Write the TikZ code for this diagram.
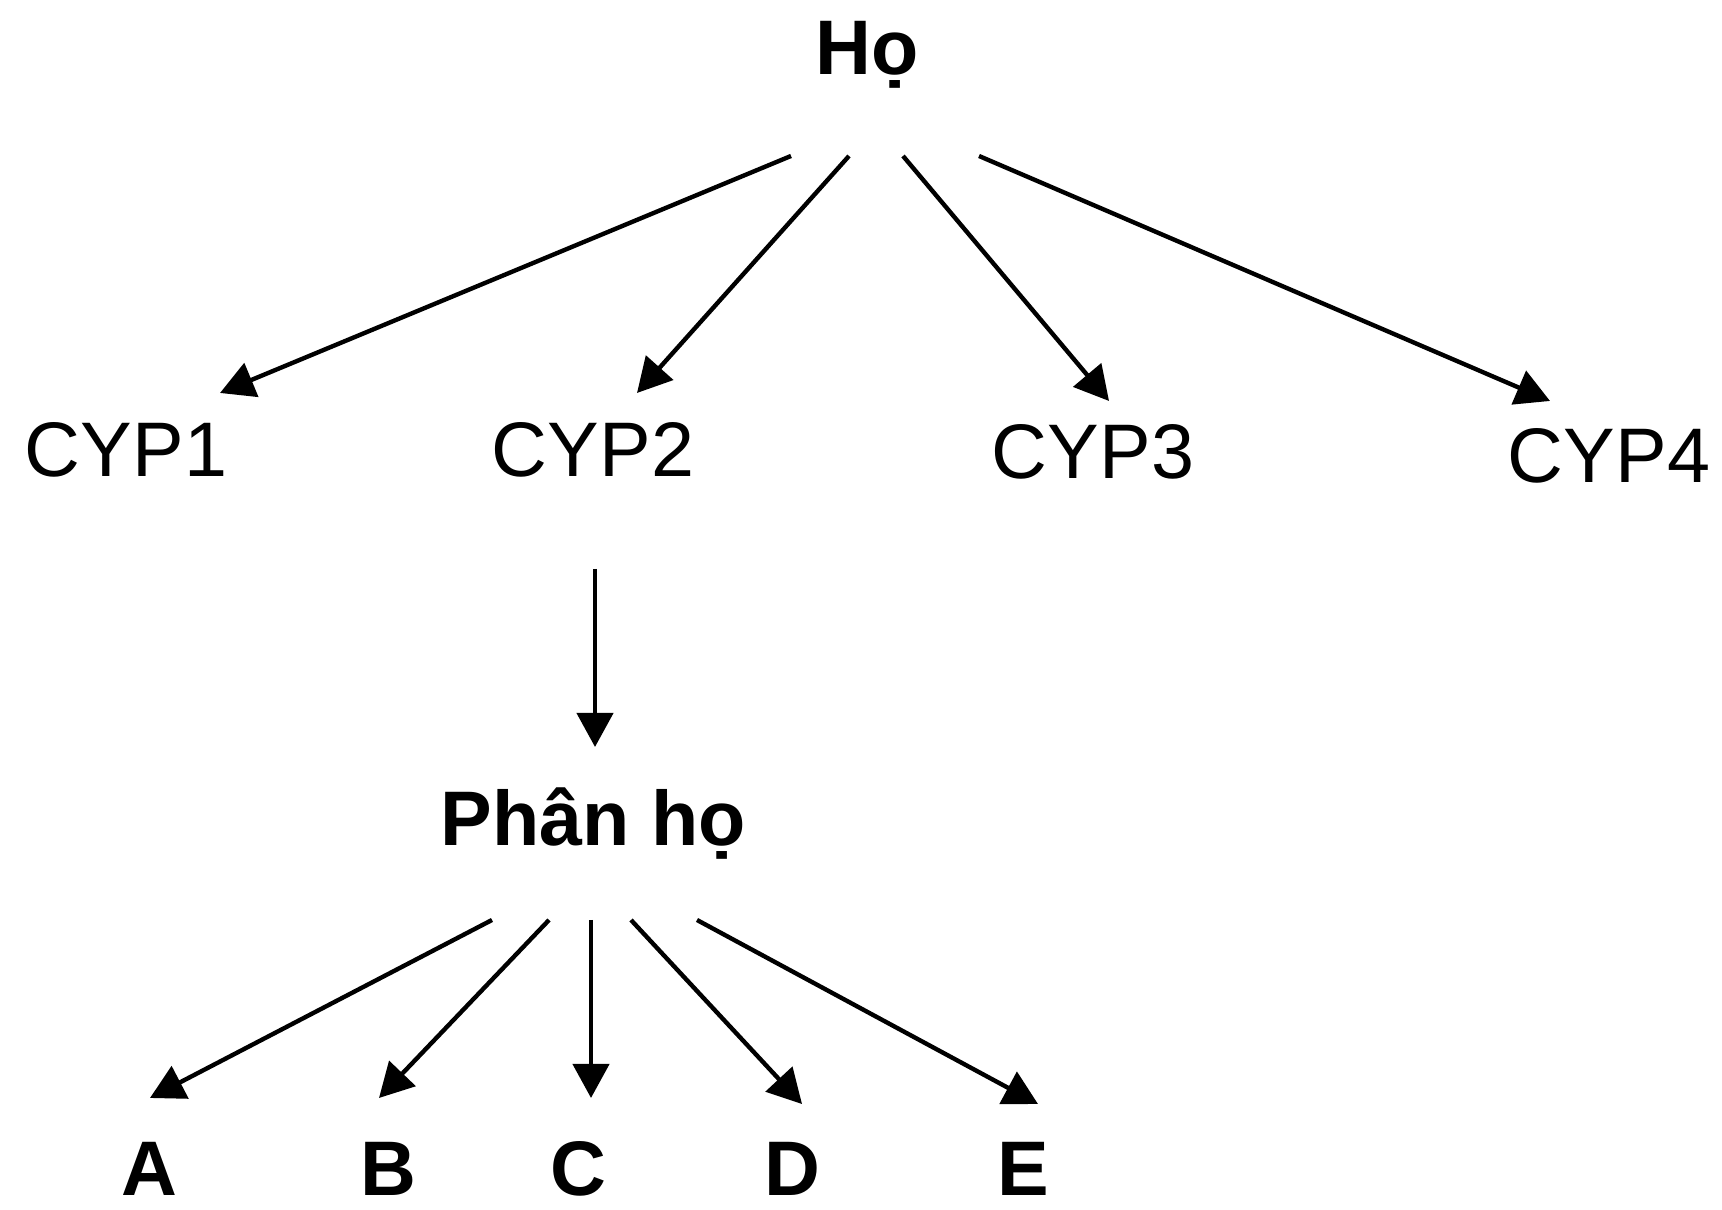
\documentclass[tikz,border=0pt]{standalone}
\usepackage{fontspec}
\setmainfont{Liberation Sans}
\usetikzlibrary{arrows.meta}

\begin{document}
\begin{tikzpicture}[x=0.01cm, y=0.01cm,
		family/.style={inner sep=0pt, font=\fontsize{22}{26}\selectfont},
		title/.style={inner sep=0pt, font=\fontsize{22}{26}\selectfont\bfseries},
		arrow/.style={line width=1.25pt, -{Triangle[length=3.4mm, width=3.6mm]}},
	]
	\useasboundingbox (0,0) rectangle (1722,1210);

	% --- Nodi ---
	\node (ho)    [title]  at (867,  1155) {Họ};
	\node (cyp1)  [family] at (126,  760)  {CYP1};
	\node (cyp2)  [family] at (593,  760)  {CYP2};
	\node (cyp3)  [family] at (1093, 758)  {CYP3};
	\node (cyp4)  [family] at (1609, 754)  {CYP4};
	\node (phan)  [title]  at (593,  386)  {Phân họ};
	\node (sa)    [title]  at (149,  41)   {A};
	\node (sb)    [title]  at (388,  41)   {B};
	\node (sc)    [title]  at (578,  41)   {C};
	\node (sd)    [title]  at (792,  41)   {D};
	\node (se)    [title]  at (1023, 41)   {E};

	% --- Họ -> CYP1..CYP4 ---
	\draw [arrow] ([shift={(-76,-101)}]ho.center) -- ([shift={(94,57)}]cyp1.center);
	\draw [arrow] ([shift={(-18,-101)}]ho.center) -- ([shift={(44,57)}]cyp2.center);
	\draw [arrow] ([shift={(36,-101)}]ho.center)  -- ([shift={(16,51)}]cyp3.center);
	\draw [arrow] ([shift={(112,-101)}]ho.center) -- ([shift={(-59,55)}]cyp4.center);

	% --- CYP2 -> Phân họ ---
	\draw [arrow] ([shift={(2,-119)}]cyp2.center) -- ([shift={(2,77)}]phan.center);

	% --- Phân họ -> A..E ---
	\draw [arrow] ([shift={(-101,-96)}]phan.center) -- ([shift={(1,71)}]sa.center);
	\draw [arrow] ([shift={(-44,-96)}]phan.center)  -- ([shift={(-9,71)}]sb.center);
	\draw [arrow] ([shift={(-2,-96)}]phan.center)   -- ([shift={(13,71)}]sc.center);
	\draw [arrow] ([shift={(38,-96)}]phan.center)   -- ([shift={(10,65)}]sd.center);
	\draw [arrow] ([shift={(104,-96)}]phan.center)  -- ([shift={(15,65)}]se.center);

\end{tikzpicture}
\end{document}
